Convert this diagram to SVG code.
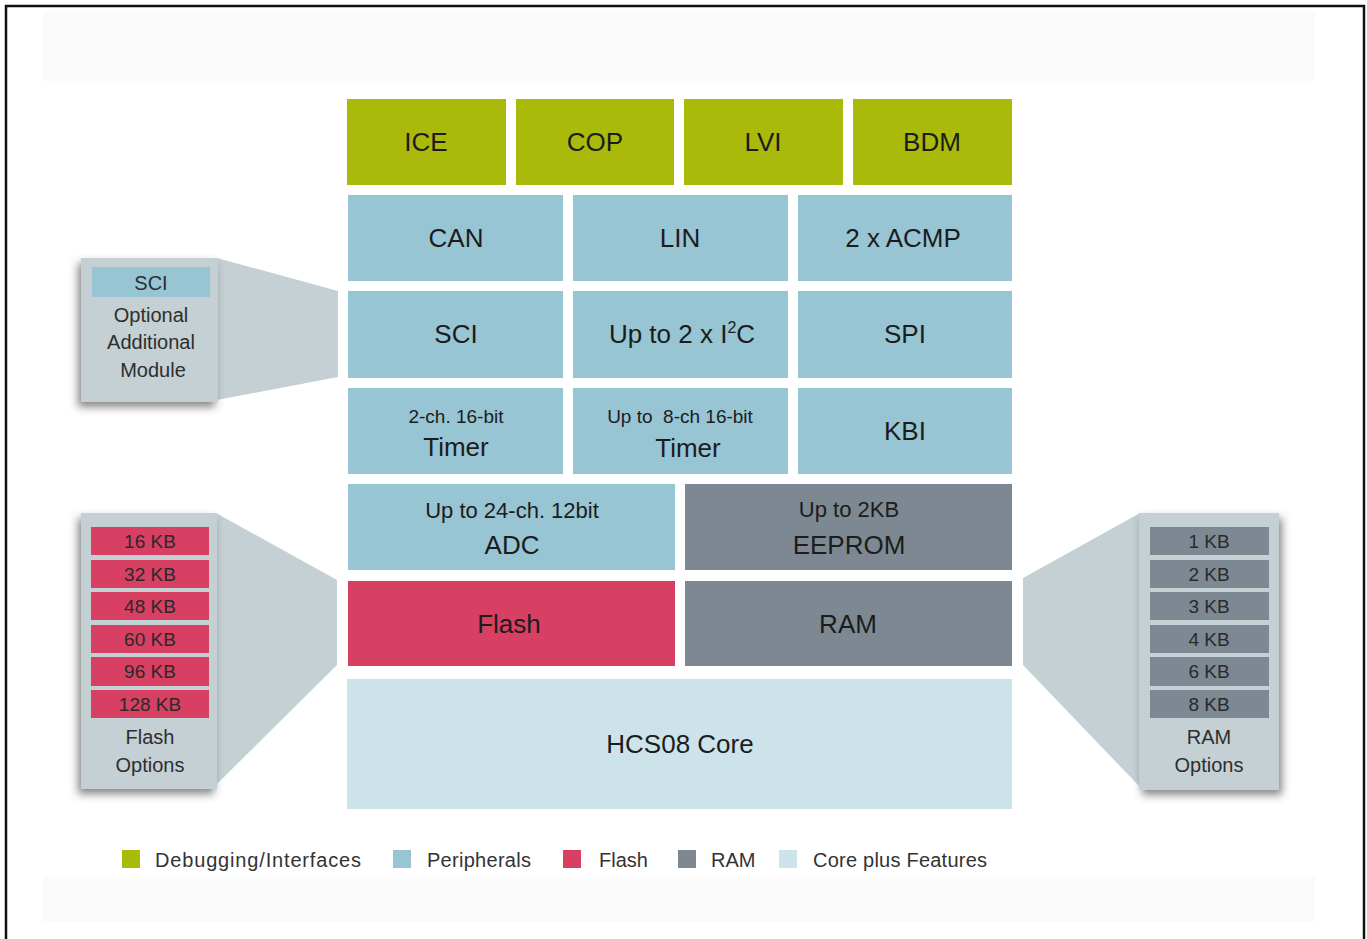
<svg xmlns="http://www.w3.org/2000/svg" width="1367" height="939" viewBox="0 0 1367 939">
<defs>
<style>
.t{font-family:"Liberation Sans","Open Sans",sans-serif;fill:#1c1c1c;text-anchor:middle}
.b{font-size:26px}
.s{font-size:19px}
.m{font-size:22px}
.p{font-size:20px;fill:#2e2e2e}
.o{font-size:19px;fill:#2a2a2a}
.lg{font-family:"Liberation Sans","Open Sans",sans-serif;font-size:20px;fill:#333}
.dbg{fill:#a9ba0b}
.per{fill:#97c5d4}
.fl{fill:#d73f63}
.ram{fill:#7e8893}
.core{fill:#cde3ea}
.pan{fill:#c4d0d3}
</style>
<filter id="shL" x="-30%" y="-20%" width="160%" height="140%">
<feDropShadow dx="-3" dy="5" stdDeviation="4" flood-color="#444" flood-opacity="0.65"/>
</filter>
<filter id="shR" x="-30%" y="-20%" width="160%" height="140%">
<feDropShadow dx="3" dy="5" stdDeviation="4" flood-color="#444" flood-opacity="0.65"/>
</filter>
</defs>
<rect x="0" y="0" width="1367" height="939" fill="#fff"/>
<rect x="43" y="11" width="1272" height="70" fill="#fbfbfb"/>
<rect x="43" y="877" width="1272" height="45" fill="#fbfbfb"/>
<rect x="6" y="6" width="1358" height="945" fill="none" stroke="#111" stroke-width="2.5"/>

<g id="connectors">
<polygon class="pan" points="217,258 338,291 338,377 217,400"/>
<polygon class="pan" points="216,513 337,580 337,665 216,785"/>
<polygon class="pan" points="1140,513 1023,578 1023,665 1140,787"/>
</g>

<g id="ice"><rect class="dbg" x="347" y="99" width="159" height="86"/><text class="t b" x="426" y="151">ICE</text></g>
<g id="cop"><rect class="dbg" x="516" y="99" width="158" height="86"/><text class="t b" x="595" y="151">COP</text></g>
<g id="lvi"><rect class="dbg" x="684" y="99" width="159" height="86"/><text class="t b" x="763" y="151">LVI</text></g>
<g id="bdm"><rect class="dbg" x="853" y="99" width="159" height="86"/><text class="t b" x="932" y="151">BDM</text></g>

<g id="can"><rect class="per" x="348" y="195" width="215" height="86"/><text class="t b" x="456" y="247">CAN</text></g>
<g id="lin"><rect class="per" x="573" y="195" width="215" height="86"/><text class="t b" x="680" y="247">LIN</text></g>
<g id="acmp"><rect class="per" x="798" y="195" width="214" height="86"/><text class="t b" x="903" y="247">2 x ACMP</text></g>

<g id="sci"><rect class="per" x="348" y="291" width="215" height="87"/><text class="t b" x="456" y="343">SCI</text></g>
<g id="i2c"><rect class="per" x="573" y="291" width="215" height="87"/><text class="t b" x="682" y="343">Up to 2 x I<tspan font-size="16" dy="-10">2</tspan><tspan dy="10">C</tspan></text></g>
<g id="spi"><rect class="per" x="798" y="291" width="214" height="87"/><text class="t b" x="905" y="343">SPI</text></g>

<g id="timer1"><rect class="per" x="348" y="388" width="215" height="86"/><text class="t s" x="456" y="423">2-ch. 16-bit</text><text class="t b" x="456" y="456">Timer</text></g>
<g id="timer2"><rect class="per" x="573" y="388" width="215" height="86"/><text class="t s" x="680" y="423" xml:space="preserve">Up to  8-ch 16-bit</text><text class="t b" x="688" y="457">Timer</text></g>
<g id="kbi"><rect class="per" x="798" y="388" width="214" height="86"/><text class="t b" x="905" y="440">KBI</text></g>

<g id="adc"><rect class="per" x="348" y="484" width="327" height="86"/><text class="t m" x="512" y="518">Up to 24-ch. 12bit</text><text class="t b" x="512" y="554">ADC</text></g>
<g id="eeprom"><rect class="ram" x="685" y="484" width="327" height="86"/><text class="t m" x="849" y="517">Up to 2KB</text><text class="t b" x="849" y="554">EEPROM</text></g>

<g id="flash"><rect class="fl" x="348" y="581" width="327" height="85"/><text class="t b" x="509" y="633">Flash</text></g>
<g id="ram"><rect class="ram" x="685" y="581" width="327" height="85"/><text class="t b" x="848" y="633">RAM</text></g>

<g id="core"><rect class="core" x="347" y="679" width="665" height="130"/><text class="t b" x="680" y="753">HCS08 Core</text></g>

<g id="sci-option">
<rect class="pan" x="81" y="258" width="137" height="144" filter="url(#shL)"/>
<rect class="per" x="92" y="267" width="118" height="30"/>
<text class="t p" x="151" y="290">SCI</text>
<text class="t p" x="151" y="322">Optional</text>
<text class="t p" x="151" y="349">Additional</text>
<text class="t p" x="153" y="377">Module</text>
</g>

<g id="flash-options">
<rect class="pan" x="81" y="513" width="136" height="276" filter="url(#shL)"/>
<rect class="fl" x="91" y="527" width="118" height="28"/><text class="t o" x="150" y="548">16 KB</text>
<rect class="fl" x="91" y="560" width="118" height="28"/><text class="t o" x="150" y="581">32 KB</text>
<rect class="fl" x="91" y="592" width="118" height="28"/><text class="t o" x="150" y="613">48 KB</text>
<rect class="fl" x="91" y="625" width="118" height="28"/><text class="t o" x="150" y="646">60 KB</text>
<rect class="fl" x="91" y="657" width="118" height="29"/><text class="t o" x="150" y="678">96 KB</text>
<rect class="fl" x="91" y="690" width="118" height="28"/><text class="t o" x="150" y="711">128 KB</text>
<text class="t p" x="150" y="744">Flash</text>
<text class="t p" x="150" y="772">Options</text>
</g>

<g id="ram-options">
<rect class="pan" x="1139" y="513" width="140" height="277" filter="url(#shR)"/>
<rect class="ram" x="1150" y="527" width="119" height="28"/><text class="t o" x="1209" y="548">1 KB</text>
<rect class="ram" x="1150" y="560" width="119" height="28"/><text class="t o" x="1209" y="581">2 KB</text>
<rect class="ram" x="1150" y="592" width="119" height="28"/><text class="t o" x="1209" y="613">3 KB</text>
<rect class="ram" x="1150" y="625" width="119" height="28"/><text class="t o" x="1209" y="646">4 KB</text>
<rect class="ram" x="1150" y="657" width="119" height="29"/><text class="t o" x="1209" y="678">6 KB</text>
<rect class="ram" x="1150" y="690" width="119" height="28"/><text class="t o" x="1209" y="711">8 KB</text>
<text class="t p" x="1209" y="744">RAM</text>
<text class="t p" x="1209" y="772">Options</text>
</g>

<g id="legend">
<rect class="dbg" x="122" y="850" width="18" height="18"/><text class="lg" x="155" y="867" textLength="206" lengthAdjust="spacing">Debugging/Interfaces</text>
<rect class="per" x="393" y="850" width="18" height="18"/><text class="lg" x="427" y="867" textLength="104" lengthAdjust="spacing">Peripherals</text>
<rect class="fl" x="563" y="850" width="18" height="18"/><text class="lg" x="599" y="867">Flash</text>
<rect class="ram" x="678" y="850" width="18" height="18"/><text class="lg" x="711" y="867">RAM</text>
<rect class="core" x="779" y="850" width="18" height="18"/><text class="lg" x="813" y="867" textLength="174" lengthAdjust="spacing">Core plus Features</text>
</g>
</svg>
